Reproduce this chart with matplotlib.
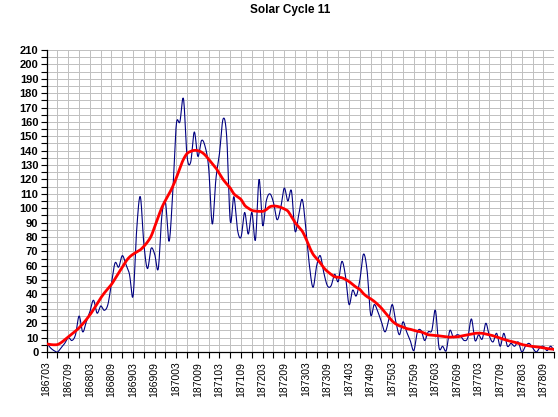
import numpy as np
import pandas as pd
import matplotlib
matplotlib.use("Agg")
import matplotlib.pyplot as plt
from matplotlib.ticker import MultipleLocator

# Solar cycle 11 - monthly sunspot number + 13 month smoothed curve
# 1867-03 .. 1878-12, 142 months

months = [p.strftime("%Y%m") for p in pd.period_range("1867-03", "1878-12", freq="M")]

monthly = [
    6, 3, 1, 0, 3, 6, 10, 8, 12, 25,
    14, 21, 28, 36, 27, 32, 29, 33, 48, 62,
    59, 67, 61, 54, 39, 85, 108, 75, 58, 72,
    68, 58, 95, 104, 77, 110, 158, 160, 176, 136,
    132, 153, 136, 147, 143, 128, 89, 120, 138, 162,
    150, 91, 108, 85, 80, 97, 82, 97, 78, 120,
    88, 105, 110, 104, 92, 100, 114, 105, 112, 84,
    95, 106, 86, 60, 45, 60, 67, 55, 46, 46,
    54, 49, 63, 53, 33, 43, 39, 50, 68, 57,
    26, 33, 28, 21, 14, 22, 33, 21, 12, 21,
    14, 8, 1, 14, 15, 8, 14, 15, 29, 3,
    4, 1, 15, 10, 12, 11, 8, 10, 23, 8,
    12, 9, 20, 11, 7, 13, 4, 13, 4, 6,
    4, 7, 0, 4, 6, 3, 0, 3, 4, 1,
    4, 1,
]

smoothed = [
    5.6, 5.2, 5.0, 5.2, 6.5, 8.5, 10.5, 12.5, 14.5, 16.8,
    19.5, 22.5, 25.8, 29.5, 33.5, 37.5, 41, 44, 47, 51,
    55, 59, 63, 66, 68, 69.5, 71, 73.5, 76.5, 80.5,
    87, 94, 100.5, 105.5, 110, 115, 121, 128, 134, 138,
    139.5, 140.2, 140, 139, 137, 134, 131, 128, 124, 120,
    117, 114, 110, 108, 106, 102, 100, 98.5, 98, 97.8,
    97.8, 99, 101, 101.5, 101.3, 100.6, 99.5, 98, 94, 90,
    87, 84, 79, 73, 68, 65, 62, 58.5, 56, 54,
    52.3, 52, 51.6, 50.5, 49, 47, 45, 43.5, 40.6, 38.5,
    37, 35.2, 33, 30.5, 27.5, 24.5, 21.5, 19.5, 18.2, 17.3,
    16.3, 15.8, 15, 14.4, 14, 13, 12, 11.8, 11.5, 11.2,
    10.8, 10.5, 10.3, 10.5, 10.5, 11, 11.5, 12, 12.5, 13,
    13.1, 13, 12.5, 12, 11.3, 10.5, 9.6, 8.8, 8, 7.4,
    6.8, 6, 5.2, 4.7, 4.2, 3.9, 3.7, 3.3, 2.8, 2.4,
    2.1, 1.9,
]


def smooth_line(y, n=12):
    # catmull-rom through the points, like excel's "smoothed line"
    y = np.asarray(y, dtype=float)
    p = np.concatenate([[y[0]], y, [y[-1]]])
    xs, ys = [], []
    t = np.linspace(0, 1, n, endpoint=False)
    for i in range(len(y) - 1):
        p0, p1, p2, p3 = p[i], p[i + 1], p[i + 2], p[i + 3]
        yy = 0.5 * ((2 * p1) + (-p0 + p2) * t + (2 * p0 - 5 * p1 + 4 * p2 - p3) * t**2
                    + (-p0 + 3 * p1 - 3 * p2 + p3) * t**3)
        xs.append(i + t)
        ys.append(yy)
    xs.append([len(y) - 1])
    ys.append([y[-1]])
    return np.concatenate(xs), np.concatenate(ys)


fig = plt.figure(figsize=(5.58, 4.17), dpi=100)
ax = fig.add_axes([46.7 / 558, 65 / 417, 507.5 / 558, 302 / 417])

x1, y1 = smooth_line(monthly)
x2, y2 = smooth_line(smoothed)
ax.plot(x1, y1, color="#000080", lw=0.8, zorder=3)
ax.plot(x2, y2, color="#FF0000", lw=2.0, zorder=4)

n = len(months)
ax.set_xlim(0, n - 1)
ax.set_ylim(0, 210)

ax.yaxis.set_major_locator(MultipleLocator(10))
ax.yaxis.set_minor_locator(MultipleLocator(5))
ax.set_xticks(range(0, n, 3), minor=True)
ax.set_xticks(range(0, n, 6))
ax.set_xticklabels([months[i] for i in range(0, n, 6)], rotation=90,
                   fontsize=7.5, family="Liberation Sans")
for lab in ax.get_yticklabels():
    lab.set_fontsize(8)
    lab.set_fontweight("bold")
    lab.set_family("Liberation Sans")

ax.grid(True, which="both", color="#C0C0C0", lw=0.7, zorder=0)
ax.set_axisbelow(True)
ax.tick_params(which="both", direction="out", length=4, width=0.8, color="black")
ax.tick_params(axis="x", pad=3)
ax.tick_params(axis="y", pad=2)
ax.spines["top"].set_visible(False)
ax.spines["right"].set_visible(False)
ax.spines["left"].set_linewidth(0.9)
ax.spines["bottom"].set_linewidth(0.9)

fig.text(290 / 558, 1 - 10 / 417, "Solar Cycle 11", ha="center", va="center",
         fontsize=8.5, fontweight="bold", family="Liberation Sans")

fig.savefig("out.png", dpi=100)
